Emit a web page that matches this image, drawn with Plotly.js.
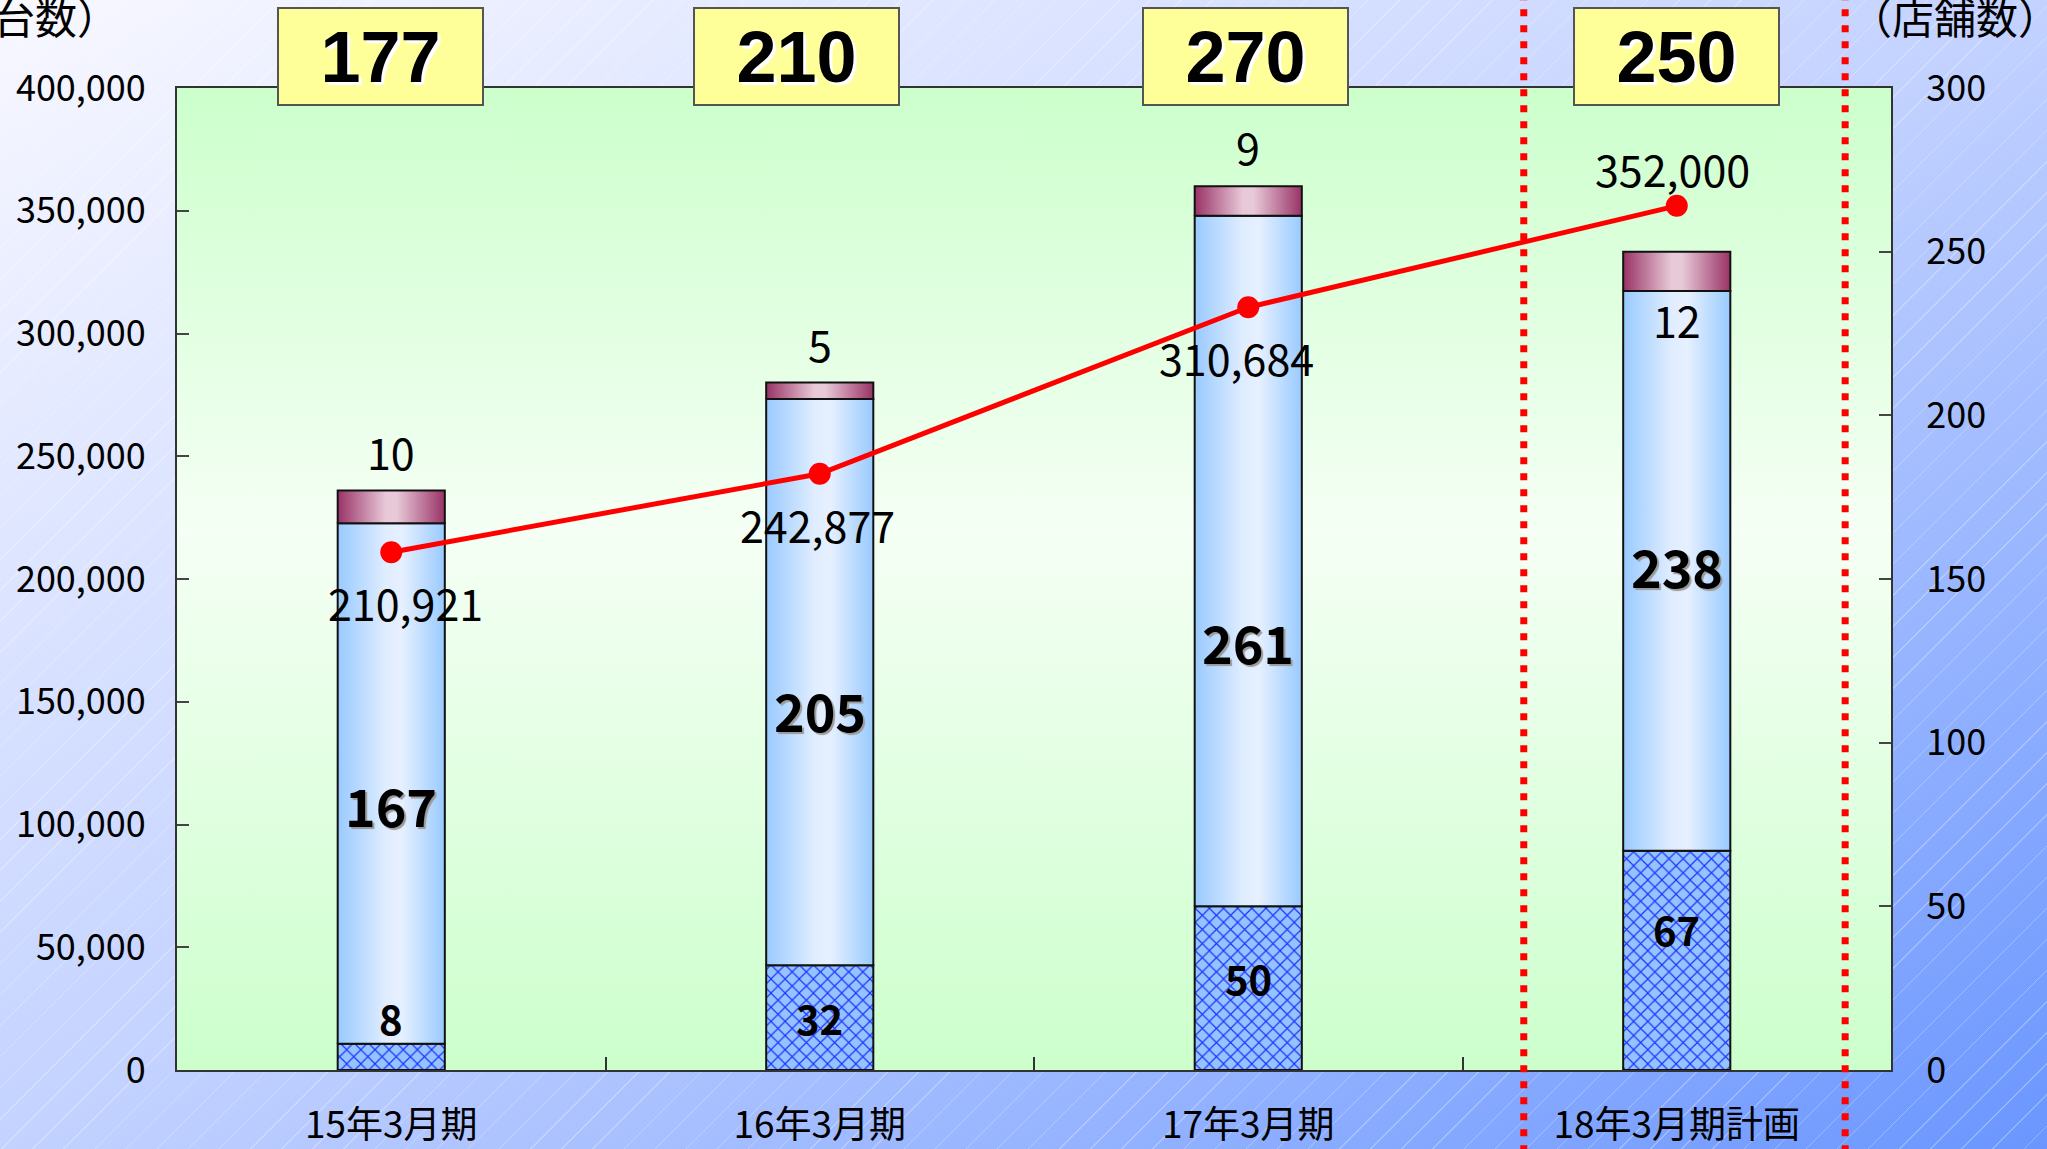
<!DOCTYPE html>
<html>
<head>
<meta charset="utf-8">
<script src="https://cdn.plot.ly/plotly-3.0.1.min.js"></script>
<style>
  html, body { margin: 0; padding: 0; overflow: hidden; }
  #chart {
    width: 2047px; height: 1149px;
    background:
      repeating-linear-gradient(135deg, rgba(255,255,255,0) 0px, rgba(255,255,255,0) 21px, rgba(255,255,255,0.28) 21px, rgba(255,255,255,0.28) 22px),
      linear-gradient(to bottom right, #f8f8ff 0%, #c3d2ff 50%, #6a96ff 100%);
  }
</style>
</head>
<body>
<div id="chart"></div>
<script>
// Fiscal periods
const periods = ['15年3月期', '16年3月期', '17年3月期', '18年3月期計画'];
// Units (台数), left axis, red line
const units = [210921, 242877, 310684, 352000];
// Store counts (店舗数), right axis
const storesHatched = [8, 32, 50, 67];      // lower hatched part
const storesMain = [167, 205, 261, 238];    // main group (includes hatched part)
const storesExtra = [10, 5, 9, 12];         // added on top
// Label heights (in store units) for the in-bar labels
const mainLabelAt = [81, 110, 131, 154];
const hatchLabelAt = [16, 16, 28, 43];
const extraLabelSide = ['above', 'above', 'above', 'below'];
// Horizontal nudge (px) of the total boxes and the unit labels
const totalBoxShift = [-11, -23, -3, 0];
const unitLabelShift = [14, -2, -12, -4];

const storesTotal = storesMain.map((v, i) => v + storesExtra[i]);

const FONT = "'Noto Sans CJK JP', 'Noto Sans', sans-serif";
const BAR_W = 0.25;

function segment(i, y0, y1) {
  const a = i - BAR_W / 2, b = i + BAR_W / 2;
  return { x: [a, b, b, a, a], y: [y0, y0, y1, y1, y0] };
}

const traces = [];
periods.forEach((p, i) => {
  // hatched bottom part
  const h = segment(i, 0, storesHatched[i]);
  traces.push({
    type: 'scatter', mode: 'lines', x: h.x, y: h.y, xaxis: 'x', yaxis: 'y',
    fill: 'toself', fillcolor: '#99ccff',
    fillpattern: { shape: 'x', bgcolor: '#94c4ff', fgcolor: '#1f2fff', fgopacity: 1, size: 10, solidity: 0.22 },
    line: { color: '#111', width: 2 }, hoverinfo: 'skip', showlegend: false
  });
  // main part
  const m = segment(i, storesHatched[i], storesMain[i]);
  traces.push({
    type: 'scatter', mode: 'lines', x: m.x, y: m.y, xaxis: 'x', yaxis: 'y',
    fill: 'toself',
    fillgradient: { type: 'horizontal', colorscale: [[0, '#99caff'], [0.45, '#e0edff'], [0.6, '#e6f0ff'], [1, '#99caff']] },
    line: { color: '#111', width: 2 }, hoverinfo: 'skip', showlegend: false
  });
  // top part
  const t = segment(i, storesMain[i], storesTotal[i]);
  traces.push({
    type: 'scatter', mode: 'lines', x: t.x, y: t.y, xaxis: 'x', yaxis: 'y',
    fill: 'toself',
    fillgradient: { type: 'horizontal', colorscale: [[0, '#993366'], [0.45, '#e8c9d8'], [0.55, '#e8c9d8'], [1, '#993366']] },
    line: { color: '#111', width: 2 }, hoverinfo: 'skip', showlegend: false
  });
});

// units line
traces.push({
  type: 'scatter', mode: 'lines+markers',
  x: periods.map((p, i) => i), y: units, xaxis: 'x', yaxis: 'y2',
  line: { color: '#ff0000', width: 5 },
  marker: { color: '#ff0000', size: 22 },
  showlegend: false, cliponaxis: false
});

const annotations = [];
periods.forEach((p, i) => {
  // total in yellow box
  annotations.push({
    xref: 'x', yref: 'paper', x: i, y: 1.032, xshift: totalBoxShift[i],
    yanchor: 'middle', showarrow: false,
    text: String(storesTotal[i]),
    font: { family: "'Liberation Sans', Arial, sans-serif", size: 72, color: '#000', weight: 700, shadow: '3px 3px 0px #ffffff' },
    bgcolor: '#ffff99', bordercolor: '#555', borderwidth: 2, borderpad: 0,
    width: 203, height: 95
  });
  // main group count
  annotations.push({
    xref: 'x', yref: 'y', x: i, y: mainLabelAt[i], showarrow: false,
    text: String(storesMain[i]),
    font: { family: FONT, size: 52, color: '#000', weight: 700, shadow: '2px 2px 1px #9a9a9a' }
  });
  // hatched part count
  annotations.push({
    xref: 'x', yref: 'y', x: i, y: hatchLabelAt[i], showarrow: false,
    text: String(storesHatched[i]),
    font: { family: FONT, size: 40, color: '#000', weight: 700 }
  });
  // extra count
  const above = extraLabelSide[i] === 'above';
  annotations.push({
    xref: 'x', yref: 'y', x: i, y: above ? storesTotal[i] : storesMain[i],
    yshift: above ? 40 : -28, showarrow: false,
    text: String(storesExtra[i]),
    font: { family: FONT, size: 43, color: '#000' }
  });
  // unit value
  const last = i === periods.length - 1;
  annotations.push({
    xref: 'x', yref: 'y2', x: i, y: units[i],
    xshift: unitLabelShift[i], yshift: last ? 38 : -50, showarrow: false,
    text: units[i].toLocaleString('en-US'),
    font: { family: FONT, size: 43, color: '#000' }
  });
});

// axis unit captions
annotations.push({
  xref: 'paper', yref: 'paper', x: -0.0327, y: 1.0735, xanchor: 'right', yanchor: 'middle',
  showarrow: false, text: '（台数）', font: { family: FONT, size: 42, color: '#000' }
});
annotations.push({
  xref: 'paper', yref: 'paper', x: 1.0998, y: 1.0735, xanchor: 'right', yanchor: 'middle',
  showarrow: false, text: '（店舗数）', font: { family: FONT, size: 42, color: '#000' }
});

const bgSvg = "<svg xmlns='http://www.w3.org/2000/svg' width='100' height='100' preserveAspectRatio='none'>" +
  "<defs><linearGradient id='g' x1='0' y1='0' x2='0' y2='1'>" +
  "<stop offset='0' stop-color='#ccffcc'/><stop offset='0.45' stop-color='#f5fff5'/><stop offset='1' stop-color='#ccffcc'/>" +
  "</linearGradient></defs><rect width='100' height='100' fill='url(#g)'/></svg>";

const layout = {
  width: 2047, height: 1149,
  margin: { l: 177, r: 156, t: 88, b: 79, pad: 0 },
  paper_bgcolor: 'rgba(0,0,0,0)',
  plot_bgcolor: 'rgba(0,0,0,0)',
  font: { family: FONT, color: '#000' },
  showlegend: false,
  xaxis: {
    range: [-0.5, 3.5], fixedrange: true,
    tickmode: 'array', tickvals: periods.map((p, i) => i), ticktext: periods,
    ticks: '', ticklabelstandoff: 22,
    tickfont: { family: FONT, size: 37, color: '#000' },
    minor: { tickmode: 'array', tickvals: [0.5, 1.5, 2.5], ticks: 'inside', ticklen: 13, tickwidth: 2, tickcolor: '#333' },
    showline: true, linecolor: '#333', linewidth: 2, mirror: true,
    showgrid: false, zeroline: false
  },
  yaxis: {
    side: 'right', range: [0, 300], dtick: 50, fixedrange: true,
    ticks: 'inside', ticklen: 12, tickwidth: 2, tickcolor: '#444',
    ticklabelstandoff: 26,
    tickfont: { family: FONT, size: 36, color: '#000' },
    showline: true, linecolor: '#333', linewidth: 2,
    showgrid: false, zeroline: false
  },
  yaxis2: {
    side: 'left', overlaying: 'y', range: [0, 400000], dtick: 50000, tickformat: ',d', fixedrange: true,
    ticks: 'inside', ticklen: 12, tickwidth: 2, tickcolor: '#444',
    ticklabelstandoff: 22,
    tickfont: { family: FONT, size: 36, color: '#000' },
    showline: true, linecolor: '#333', linewidth: 2,
    showgrid: false, zeroline: false
  },
  images: [{
    source: 'data:image/svg+xml;charset=utf-8,' + encodeURIComponent(bgSvg),
    xref: 'paper', yref: 'paper', x: 0, y: 1, sizex: 1, sizey: 1,
    xanchor: 'left', yanchor: 'top', sizing: 'stretch', layer: 'below'
  }],
  shapes: [2.643, 3.393].map(xv => ({
    type: 'line', xref: 'x', yref: 'paper', x0: xv, x1: xv, y0: -0.1, y1: 1.1,
    line: { color: '#ff0000', width: 7, dash: '7px,9px' }
  })),
  annotations: annotations
};

Plotly.newPlot('chart', traces, layout, { displayModeBar: false, staticPlot: true });
</script>
</body>
</html>
